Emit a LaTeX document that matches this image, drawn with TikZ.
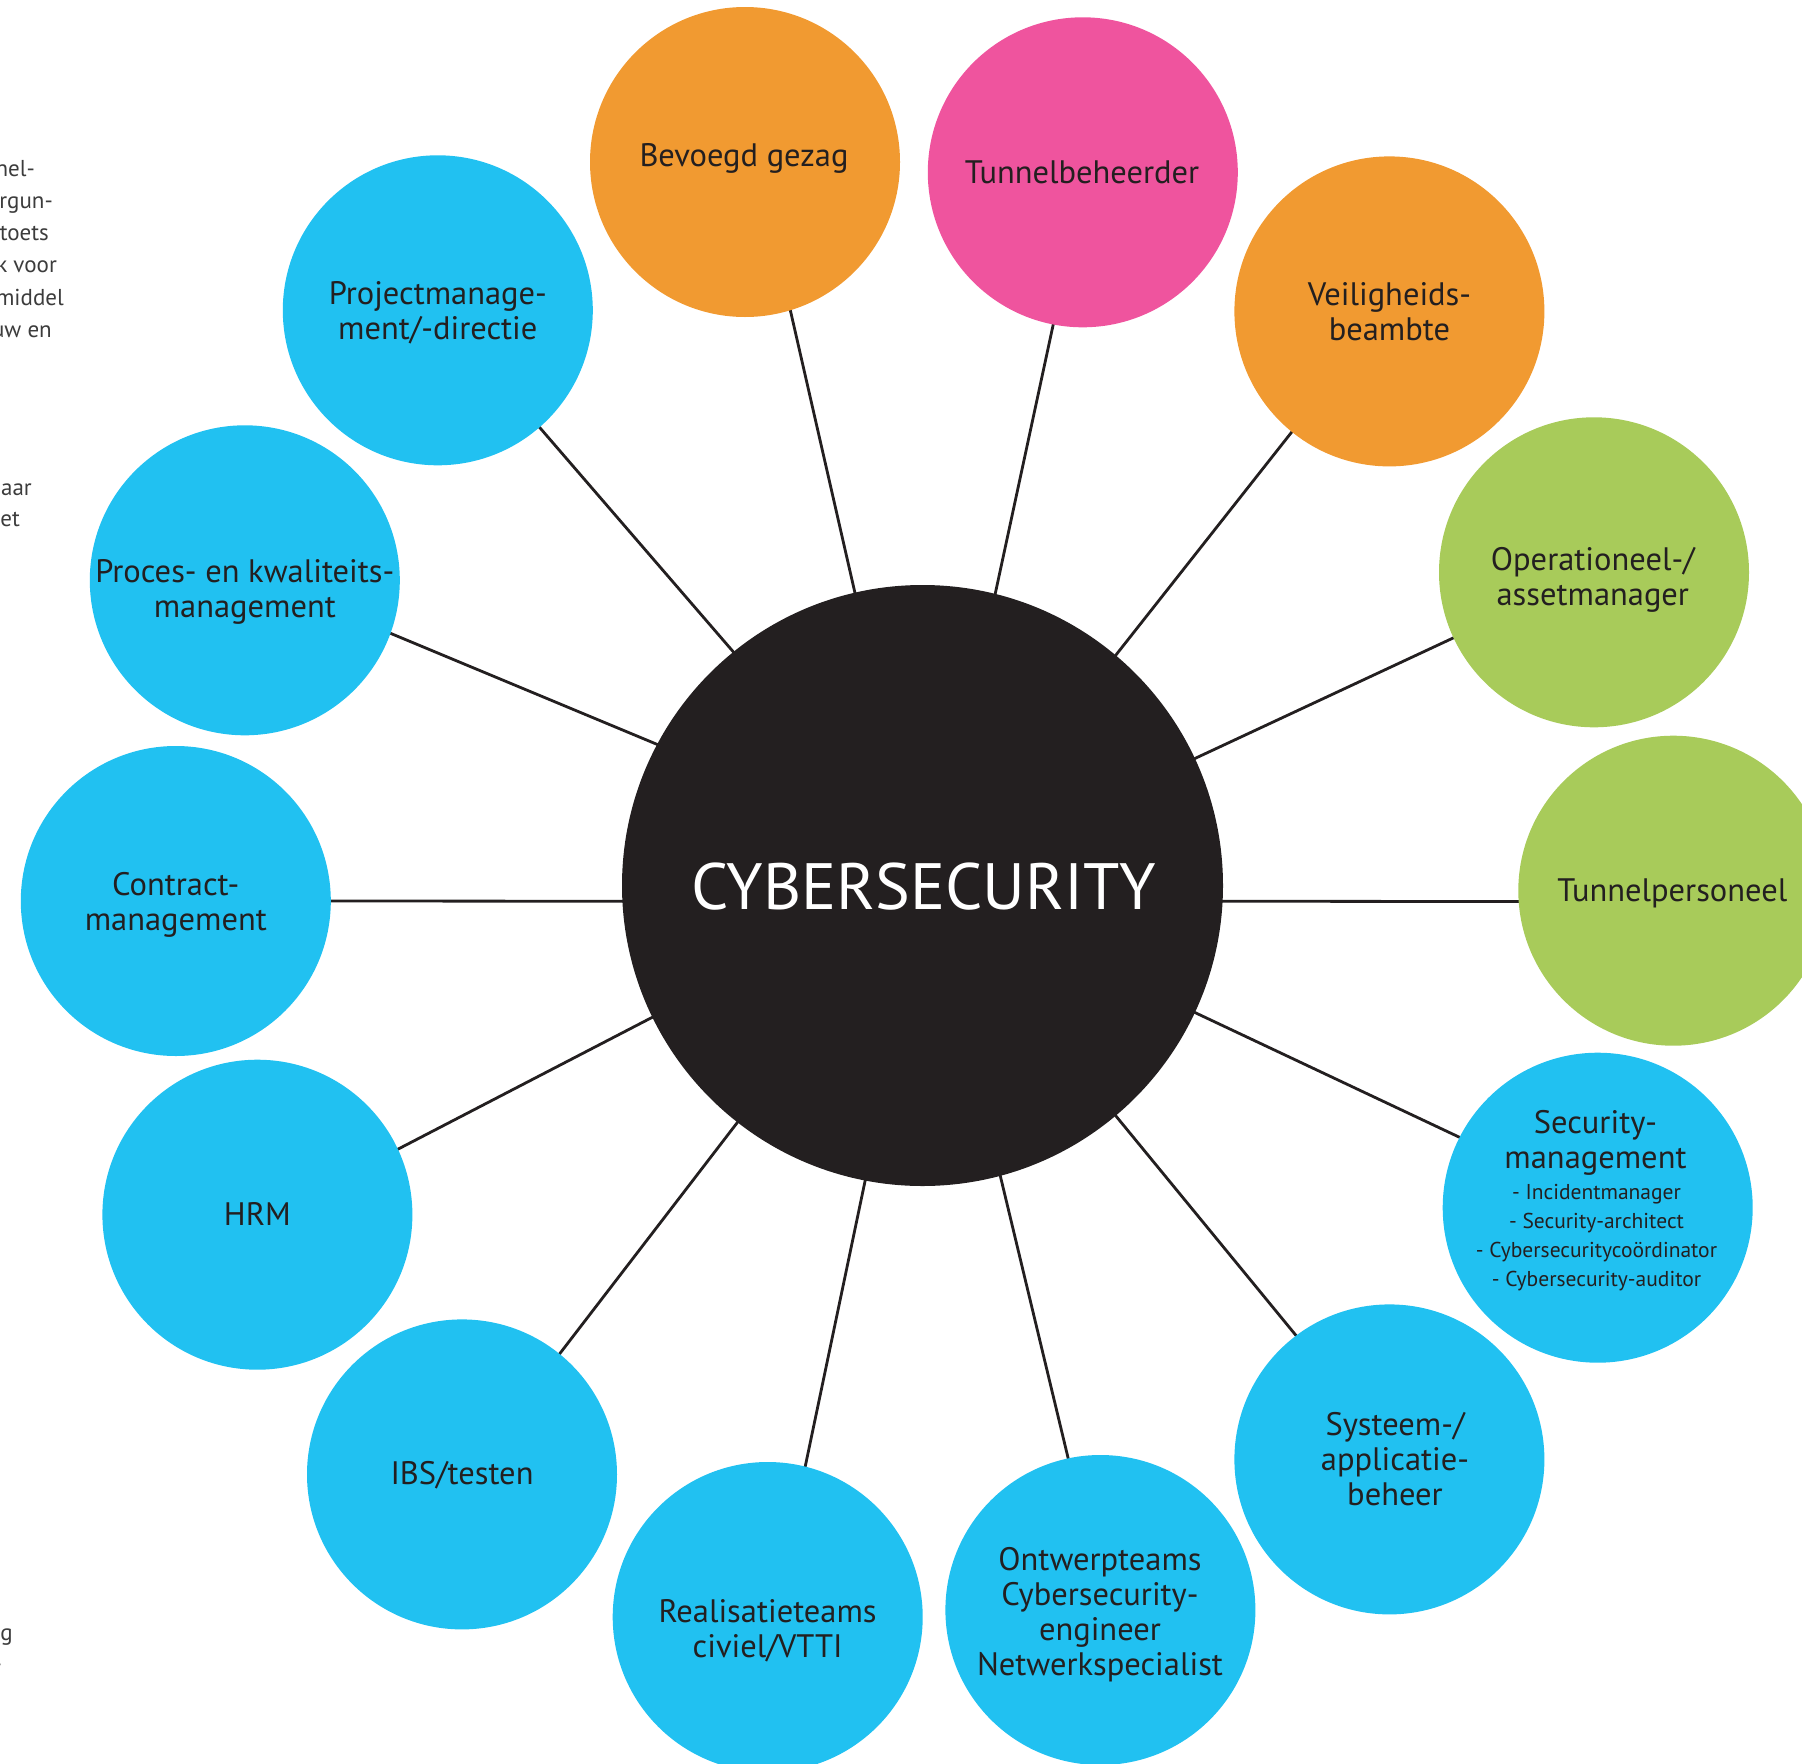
\documentclass[tikz,border=0pt]{standalone}
\usepackage{fontspec}
\setmainfont{PT Sans}
\definecolor{cblue}{HTML}{21C1F1}
\definecolor{corange}{HTML}{F19A31}
\definecolor{cpink}{HTML}{EF549E}
\definecolor{cgreen}{HTML}{A8CB5A}
\definecolor{cdark}{HTML}{231F20}
\definecolor{cgray}{HTML}{3C3C3C}
\newcommand{\mylines}[1]{\begin{tabular}[t]{@{}c@{}}#1\end{tabular}}
\pgfdeclarelayer{bg}
\pgfsetlayers{bg,main}
\begin{document}
\begin{tikzpicture}[x=1pt,y=-1pt,
  sat/.style={circle,minimum size=310pt,inner sep=0pt,draw=none},
  hub/.style={circle,minimum size=601pt,inner sep=0pt,fill=cdark},
  lbl/.style={anchor=base,inner sep=0pt,text=cdark,font=\fontsize{32.5}{35}\selectfont},
  sml/.style={anchor=base,inner sep=0pt,text=cdark,font=\fontsize{21.5}{29.3}\selectfont},
  link/.style={draw=cdark,line width=2.8pt,shorten <=-3pt,shorten >=-3pt},
  frag/.style={anchor=base east,inner sep=0pt,text=cgray,font=\fontsize{23}{32}\selectfont}]
\useasboundingbox (0,0) rectangle (1802,1764);
% satellites
\node[sat,fill=corange] (bev) at (745,162) {};
\node[sat,fill=cpink]   (tun) at (1082.8,172.3) {};
\node[sat,fill=corange] (vei) at (1389.4,311.4) {};
\node[sat,fill=cgreen]  (ope) at (1594,572.3) {};
\node[sat,fill=cgreen]  (tpe) at (1673.3,890.7) {};
\node[sat,fill=cblue]   (sec) at (1597.7,1207.7) {};
\node[sat,fill=cblue]   (sys) at (1389.4,1459.4) {};
\node[sat,fill=cblue]   (ont) at (1100.4,1610) {};
\node[sat,fill=cblue]   (rea) at (767.7,1617) {};
\node[sat,fill=cblue]   (ibs) at (462,1474.4) {};
\node[sat,fill=cblue]   (hrm) at (257.4,1214.7) {};
\node[sat,fill=cblue]   (con) at (175.8,901) {};
\node[sat,fill=cblue]   (pro) at (244.8,580.3) {};
\node[sat,fill=cblue]   (pm)  at (437.8,310.3) {};
\node[hub] (hub) at (922.5,885.5) {};
% connectors
\begin{pgfonlayer}{bg}
\draw[link] (hub.103)    -- (bev.-73.2);
\draw[link] (hub.76.8)   -- (tun.-101);
\draw[link] (hub.50.6)   -- (vei.-129.2);
\draw[link] (hub.25.1)   -- (ope.205.7);
\draw[link] (hub.-3.09)  -- (tpe.184.1);
\draw[link] (hub.-25.0)  -- (sec.153.9);
\draw[link] (hub.-50.1)  -- (sys.127.1);
\draw[link] (hub.-75.1)  -- (ont.102.4);
\draw[link] (hub.-101.6) -- (rea.76.9);
\draw[link] (hub.-128.1) -- (ibs.51.1);
\draw[link] (hub.206.7)  -- (hrm.25.0);
\draw[link] (hub.183.09) -- (con.-0.3);
\draw[link] (hub.152.4)  -- (pro.-20.2);
\draw[link] (hub.129.8)  -- (pm.-49.8);
\end{pgfonlayer}
% centre text
\node[anchor=base,inner sep=0pt,text=white,font=\fontsize{65.5}{80}\selectfont] (cyb) at (923.6,909.5) {CYBERSECURITY};
% labels
\node[lbl] (tbev) at (744,166) {Bevoegd gezag};
\node[lbl] (ttun) at (1082,183) {Tunnelbeheerder};
\node[lbl] (tvei) at (1389.4,305) {\mylines{Veiligheids-\\beambte}};
\node[lbl] (tope) at (1592.8,570) {\mylines{Operationeel-/\\assetmanager}};
\node[lbl] (ttpe) at (1672.3,901.7) {Tunnelpersoneel};
\node[lbl] (tsec) at (1595.5,1133) {\mylines{Security-\\management}};
\node[sml] (tsec2) at (1596.5,1199) {\mylines{- Incidentmanager\\- Security-architect\\- Cybersecuritycoördinator\\- Cybersecurity-auditor}};
\node[lbl] (tsys) at (1395,1435) {\mylines{Systeem-/\\applicatie-\\beheer}};
\node[lbl] (tont) at (1100,1570) {\mylines{Ontwerpteams\\Cybersecurity-\\engineer\\Netwerkspecialist}};
\node[lbl] (trea) at (767.6,1622) {\mylines{Realisatieteams\\civiel/VTTI}};
\node[lbl] (tibs) at (462,1484) {IBS/testen};
\node[lbl] (thrm) at (257.4,1225) {HRM};
\node[lbl] (tcon) at (175.8,895) {\mylines{Contract-\\management}};
\node[lbl] (tpro) at (244.8,582) {\mylines{Proces- en kwaliteits-\\management}};
\node[lbl] (tpm)  at (437.8,304) {\mylines{Projectmanage-\\ment/-directie}};
% cut-off text fragments at the left edge
\node[frag] (f1) at (35,176) {nel-};
\node[frag] (f2) at (53,208) {ergun-};
\node[frag] (f3) at (49,240.5) {toets};
\node[frag] (f4) at (57,272.5) {k voor};
\node[frag] (f5) at (64,305) {middel};
\node[frag] (f6) at (52,337) {uw en};
\node[frag] (f7) at (32,495) {aar};
\node[frag] (f8) at (20,526) {et};
\node[frag] (f9) at (13,1640) {g};
\node[frag] (f10) at (2,1671) {-};
\end{tikzpicture}
\end{document}
